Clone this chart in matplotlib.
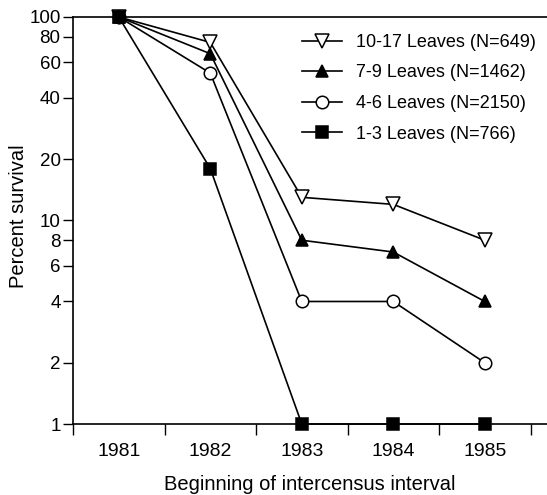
import numpy as np
import matplotlib
matplotlib.use('Agg')
import matplotlib.pyplot as plt

plt.rcParams['font.family'] = ['Liberation Sans', 'DejaVu Sans']

years = ['1981', '1982', '1983', '1984', '1985']
labels = ['10-17 Leaves (N=649)', '7-9 Leaves (N=1462)',
          '4-6 Leaves (N=2150)', '1-3 Leaves (N=766)']
leaves_10_17 = [100, 75, 13, 12, 8]
leaves_7_9 = [100, 66, 8, 7, 4]
leaves_4_6 = [100, 53, 4, 4, 2]
leaves_1_3 = [100, 18, 1, 1, 1]
yticks = [1, 2, 4, 6, 8, 10, 20, 40, 60, 80, 100]

series = [leaves_10_17, leaves_7_9, leaves_4_6, leaves_1_3]
styles = [dict(marker='v', mfc='white', ms=10),
          dict(marker='^', mfc='black', ms=9),
          dict(marker='o', mfc='white', ms=9),
          dict(marker='s', mfc='black', ms=8)]

fig = plt.figure(figsize=(5.47, 4.95), dpi=100)
ax = fig.add_axes([0.1335, 0.1434, 0.8665, 0.8223])

x = np.arange(len(years))
for vals, lab, st in zip(series, labels, styles):
    ax.plot(x, vals, color='black', lw=1.2, mec='black', mew=1.1,
            label=lab, clip_on=False, zorder=3, **st)

ax.set_yscale('log')
ax.set_ylim(1, 100)
ax.set_yticks(yticks)
ax.set_yticklabels([str(t) for t in yticks])
ax.yaxis.set_minor_locator(matplotlib.ticker.NullLocator())

ax.set_xlim(-0.5, 4.68)
ax.set_xticks(x)
ax.set_xticklabels(years)
ax.set_xticks(np.arange(-0.5, 4.6, 1.0), minor=True)
ax.tick_params(axis='x', which='major', length=0, pad=14, labelsize=14)
ax.tick_params(axis='x', which='minor', length=8, width=1, direction='out')
ax.tick_params(axis='y', length=7, width=1, direction='out', labelsize=13.5, pad=2)

for s in ['left', 'bottom', 'top']:
    ax.spines[s].set_linewidth(1.2)
ax.spines['right'].set_visible(False)

ax.set_ylabel('Percent survival', fontsize=14.5, va='center')
ax.yaxis.set_label_coords(-0.114, 0.51)
ax.set_xlabel('Beginning of intercensus interval', fontsize=14.5, va='center')
ax.xaxis.set_label_coords(0.5, -0.148)

ax.legend(loc='upper right', frameon=False, fontsize=13, handlelength=2.2,
          handletextpad=0.8, labelspacing=0.75, bbox_to_anchor=(1.0, 0.985),
          borderaxespad=0.2)

fig.savefig('out.png', dpi=100)
